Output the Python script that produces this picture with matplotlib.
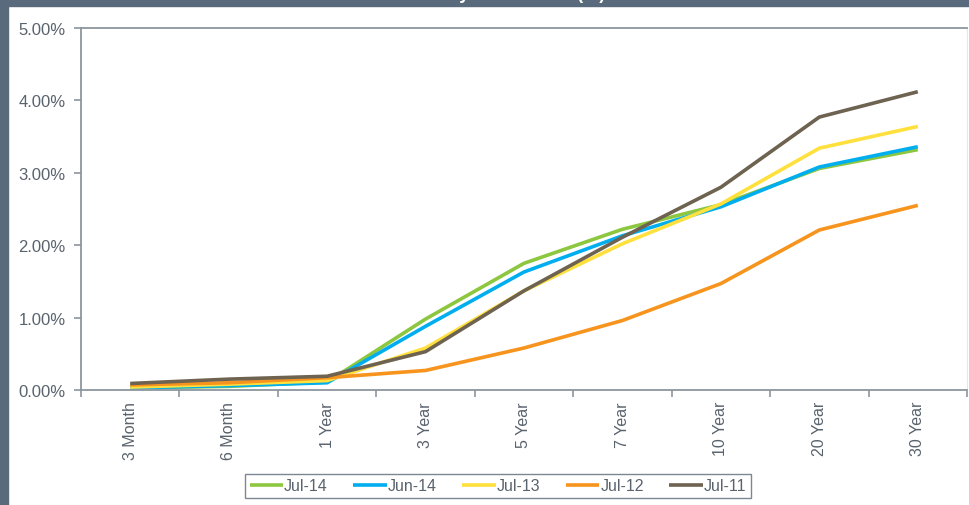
import matplotlib.pyplot as plt
from matplotlib.patches import Rectangle
from matplotlib.ticker import FuncFormatter, FixedLocator

plt.rcParams['font.family'] = ['Liberation Sans', 'DejaVu Sans']

# tenors and yields (%)
tenors = ["3 Month", "6 Month", "1 Year", "3 Year", "5 Year", "7 Year", "10 Year", "20 Year", "30 Year"]
jul14 = [0.03, 0.05, 0.11, 0.98, 1.75, 2.22, 2.56, 3.06, 3.32]
jun14 = [0.03, 0.06, 0.10, 0.88, 1.63, 2.13, 2.53, 3.08, 3.36]
jul13 = [0.04, 0.08, 0.13, 0.58, 1.37, 2.02, 2.57, 3.34, 3.64]
jul12 = [0.07, 0.10, 0.17, 0.27, 0.58, 0.96, 1.47, 2.21, 2.55]
jul11 = [0.09, 0.15, 0.19, 0.53, 1.37, 2.11, 2.80, 3.77, 4.12]

series = [("Jul-14", jul14, "#8dc63f"),
          ("Jun-14", jun14, "#00aeef"),
          ("Jul-13", jul13, "#ffe03c"),
          ("Jul-12", jul12, "#f7941d"),
          ("Jul-11", jul11, "#6e6250")]

W, H = 969, 506
fig = plt.figure(figsize=(W / 100, H / 100), dpi=100)

# frame decorations: dark header strip and left border
fig.patches.append(Rectangle((0, 1 - 7 / H), 1, 7 / H, transform=fig.transFigure,
                             color="#586a7b", zorder=0))
fig.patches.append(Rectangle((0, 0), 8 / W, 1, transform=fig.transFigure,
                             color="#586a7b", zorder=0))
# title is cut off by the top edge in the original screenshot
fig.text(0.5, 1 + 6 / H, "US Treasury Yield Curve (%)", color="white",
         fontsize=13, fontweight="bold", ha="center", va="center")

ax = fig.add_axes([81 / W, (H - 391) / H, 886 / W, 362 / H])
x = list(range(len(tenors)))
for name, vals, col in series:
    ax.plot(x, vals, color=col, lw=2.6, label=name, solid_capstyle="butt")

ax.set_xlim(-0.5, len(tenors) - 0.5)
ax.set_ylim(0, 5)
ax.set_yticks([0, 1, 2, 3, 4, 5])
ax.yaxis.set_major_formatter(FuncFormatter(lambda v, p: f"{v:.2f}%"))
ax.set_xticks(x)
ax.set_xticklabels(tenors, rotation=90, fontsize=11.5, color="#59636d")
ax.xaxis.set_minor_locator(FixedLocator([i - 0.5 for i in range(len(tenors) + 1)]))
ax.tick_params(axis="x", which="major", length=0, pad=8)
ax.tick_params(axis="x", which="minor", length=5, color="#8c959e", width=1.2)
ax.tick_params(axis="y", length=5, color="#8c959e", width=1.2, labelsize=12,
               labelcolor="#59636d", pad=6)

for s in ["left", "bottom", "top"]:
    ax.spines[s].set_color("#8c959e")
    ax.spines[s].set_linewidth(1.3)
ax.spines["right"].set_color("#e6e6e6")

leg = fig.legend(loc="center", bbox_to_anchor=(498 / W, (H - 487) / H), ncol=5,
                 frameon=True, fancybox=False, fontsize=11.5, handlelength=2.1,
                 handletextpad=0.05, columnspacing=1.6, borderpad=0.3)
leg.get_frame().set_edgecolor("#5a6a78")
leg.get_frame().set_linewidth(1.0)
for t in leg.get_texts():
    t.set_color("#59636d")

fig.savefig("out.png", dpi=100)
